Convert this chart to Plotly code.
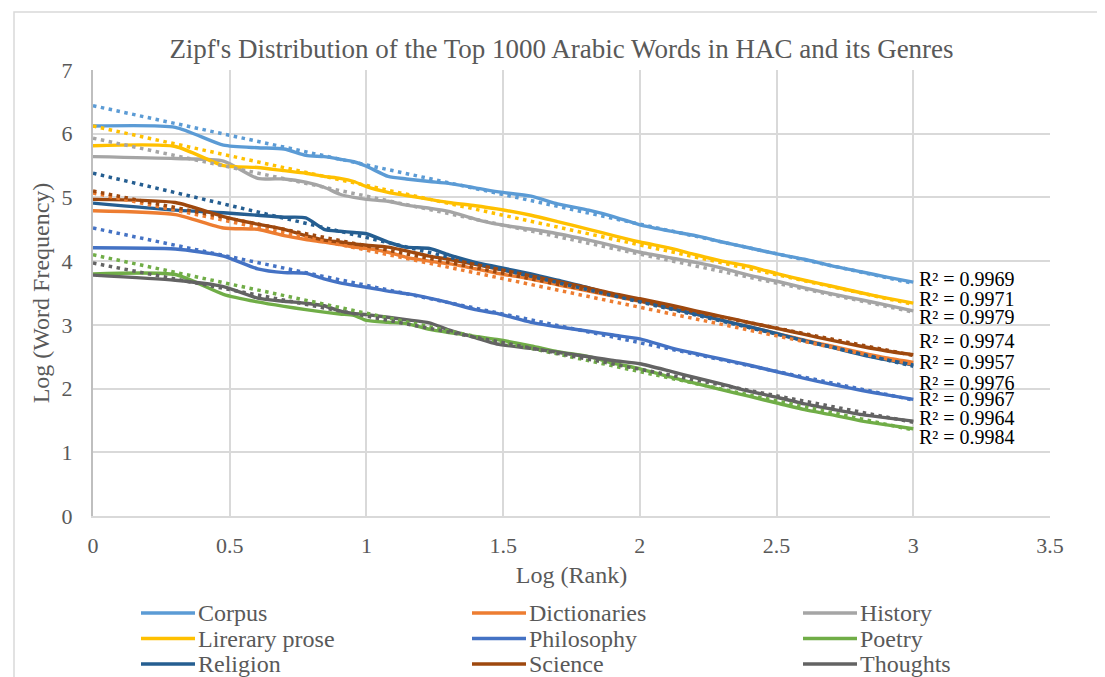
import numpy as np
import plotly.graph_objects as go

# ---------------- data ----------------
series_names = ["Corpus", "Dictionaries", "History",
                "Lirerary prose", "Philosophy", "Poetry",
                "Religion", "Science", "Thoughts"]
series_colors = ["#5B9BD5", "#ED7D31", "#A5A5A5",
                 "#FFC000", "#4472C4", "#70AD47",
                 "#255E91", "#9E480E", "#636363"]

ranks = [1, 2, 3, 4, 5, 6, 7, 8, 9, 10, 12, 14, 17, 20, 25, 30, 40, 50, 65, 80,
         100, 130, 160, 200, 250, 320, 400, 500, 650, 800, 1000]

corpus = [6.12, 6.10, 5.82, 5.78, 5.76, 5.66, 5.64, 5.60, 5.56, 5.49, 5.33, 5.29, 5.25, 5.22,
          5.15, 5.09, 5.02, 4.90, 4.80, 4.70, 4.57, 4.47, 4.40, 4.30, 4.21, 4.11, 4.03, 3.93,
          3.83, 3.75, 3.67]
dictionaries = [4.79, 4.73, 4.52, 4.50, 4.40, 4.34, 4.30, 4.26, 4.22, 4.20, 4.14, 4.06, 4.00,
                3.96, 3.88, 3.81, 3.72, 3.63, 3.53, 3.45, 3.37, 3.26, 3.17, 3.07, 2.97, 2.86,
                2.76, 2.67, 2.56, 2.48, 2.41]
history = [5.64, 5.61, 5.57, 5.30, 5.29, 5.24, 5.16, 5.05, 5.00, 4.97, 4.94, 4.88, 4.83, 4.78,
           4.66, 4.58, 4.50, 4.43, 4.33, 4.24, 4.14, 4.05, 3.98, 3.89, 3.78, 3.68, 3.58, 3.49,
           3.39, 3.31, 3.22]
literary_prose = [5.81, 5.80, 5.50, 5.47, 5.42, 5.38, 5.33, 5.30, 5.25, 5.17, 5.08, 5.03, 4.97,
                  4.92, 4.87, 4.82, 4.72, 4.62, 4.50, 4.40, 4.30, 4.20, 4.10, 4.00, 3.92, 3.80,
                  3.70, 3.61, 3.50, 3.42, 3.34]
philosophy = [4.21, 4.19, 4.08, 3.88, 3.82, 3.81, 3.72, 3.66, 3.62, 3.59, 3.53, 3.49, 3.42, 3.35,
              3.24, 3.18, 3.04, 2.97, 2.90, 2.84, 2.78, 2.64, 2.55, 2.46, 2.37, 2.26, 2.16, 2.07,
              1.97, 1.90, 1.83]
poetry = [3.80, 3.79, 3.48, 3.36, 3.29, 3.24, 3.20, 3.17, 3.15, 3.07, 3.04, 3.02, 2.93, 2.88,
          2.82, 2.77, 2.67, 2.58, 2.50, 2.40, 2.31, 2.18, 2.08, 1.98, 1.88, 1.77, 1.67, 1.59,
          1.49, 1.43, 1.37]
religion = [4.91, 4.80, 4.76, 4.72, 4.69, 4.68, 4.50, 4.47, 4.45, 4.43, 4.30, 4.22, 4.20, 4.10,
            3.98, 3.91, 3.80, 3.70, 3.58, 3.47, 3.38, 3.26, 3.17, 3.07, 2.97, 2.86, 2.75, 2.65,
            2.53, 2.45, 2.37]
science = [4.97, 4.92, 4.70, 4.58, 4.50, 4.40, 4.33, 4.30, 4.27, 4.25, 4.22, 4.16, 4.08, 4.03,
           3.95, 3.88, 3.77, 3.68, 3.58, 3.49, 3.41, 3.31, 3.22, 3.13, 3.04, 2.94, 2.85, 2.76,
           2.66, 2.59, 2.53]
thoughts = [3.78, 3.70, 3.60, 3.42, 3.37, 3.34, 3.30, 3.22, 3.18, 3.16, 3.12, 3.08, 3.03, 2.92,
            2.80, 2.70, 2.63, 2.57, 2.50, 2.44, 2.39, 2.27, 2.17, 2.07, 1.96, 1.86, 1.76, 1.68,
            1.59, 1.54, 1.49]

series_values = [corpus, dictionaries, history, literary_prose, philosophy, poetry,
                 religion, science, thoughts]

# linear trendlines (log frequency = intercept + slope * log rank)
trend_intercept = [6.44, 5.07, 5.93, 6.12, 4.52, 4.10, 5.38, 5.10, 3.97]
trend_slope = [-0.930, -0.897, -0.910, -0.933, -0.900, -0.917, -1.010, -0.860, -0.833]
r_squared = [0.9969, 0.9957, 0.9979, 0.9971, 0.9967, 0.9984, 0.9976, 0.9974, 0.9964]

# layout-only: where the R² labels sit (y in data units), in series order
r2_label_y = [3.72, 2.42, 3.12, 3.41, 1.84, 1.24, 2.09, 2.75, 1.54]

x_ticks = [0, 0.5, 1, 1.5, 2, 2.5, 3, 3.5]
y_ticks = [0, 1, 2, 3, 4, 5, 6, 7]

# ---------------- figure ----------------
OFF = 8                      # page body margin of the html page
W, H = 1105 - OFF, 677 - OFF
PLOT_L, PLOT_R, PLOT_T, PLOT_B = 93, 1050, 70, 516   # reference pixel positions
L = PLOT_L - OFF
T = PLOT_T - OFF
R = W - (PLOT_R - OFF)
B = H - (PLOT_B - OFF)
PW, PH = PLOT_R - PLOT_L, PLOT_B - PLOT_T
FONT = "Liberation Serif, Times New Roman, serif"
GREY_TEXT = "#595959"


def px_to_paper_x(px):
    return (px - PLOT_L) / PW


def px_to_paper_y(py):
    return (PLOT_B - py) / PH


log_rank = np.log10(np.array(ranks, dtype=float))
fig = go.Figure()

for name, color, vals in zip(series_names, series_colors, series_values):
    fig.add_trace(go.Scatter(x=log_rank, y=vals, mode="lines", name=name,
                             line=dict(color=color, width=3.4, shape="spline", smoothing=0.6),
                             showlegend=False))

x_trend = np.array([log_rank[0], log_rank[-1]])
for name, color, a, b in zip(series_names, series_colors, trend_intercept, trend_slope):
    fig.add_trace(go.Scatter(x=x_trend, y=a + b * x_trend, mode="lines",
                             name=name + " trend",
                             line=dict(color=color, width=3.5, dash="3.5px,4.5px"),
                             showlegend=False, hoverinfo="skip"))

# R² labels
for r2, ly in zip(r_squared, r2_label_y):
    fig.add_annotation(x=3.012, y=ly, xref="x", yref="y", text=f"R² = {r2:.4f}",
                       showarrow=False, xanchor="left", yanchor="middle",
                       font=dict(family=FONT, size=20, color="#000000"))

# legend (3 columns x 3 rows)
for i, (name, color) in enumerate(zip(series_names, series_colors)):
    col, row = i % 3, i // 3
    lx0 = 141 + 331 * col
    ly = 613 + 25.5 * row
    fig.add_shape(type="line", xref="paper", yref="paper",
                  x0=px_to_paper_x(lx0), x1=px_to_paper_x(lx0 + 54),
                  y0=px_to_paper_y(ly), y1=px_to_paper_y(ly),
                  line=dict(color=color, width=3.5))
    fig.add_annotation(xref="paper", yref="paper", x=px_to_paper_x(lx0 + 55),
                       y=px_to_paper_y(ly), text=name, showarrow=False,
                       xanchor="left", yanchor="middle",
                       font=dict(family=FONT, size=24, color=GREY_TEXT))

# outer chart border
fig.add_shape(type="rect", xref="paper", yref="paper", layer="below",
              x0=px_to_paper_x(14), x1=px_to_paper_x(1130),
              y0=px_to_paper_y(720), y1=px_to_paper_y(12),
              line=dict(color="#D9D9D9", width=1.5), fillcolor="rgba(0,0,0,0)")

fig.update_layout(
    width=W, height=H,
    margin=dict(l=L, r=R, t=T, b=B, autoexpand=False),
    paper_bgcolor="white", plot_bgcolor="white",
    font=dict(family=FONT, color=GREY_TEXT),
    title=dict(text="Zipf's Distribution of the Top 1000 Arabic Words in HAC and its Genres",
               x=(561.5 - OFF) / W, xref="container", xanchor="center",
               y=1 - (48.5 - OFF) / H, yref="container", yanchor="middle",
               font=dict(family=FONT, size=27, color=GREY_TEXT)),
    xaxis=dict(range=[0, 3.5], tickvals=x_ticks, ticktext=[f"{v:g}" for v in x_ticks],
               showgrid=True, gridcolor="#D9D9D9", gridwidth=1.5,
               showline=True, linecolor="#D9D9D9", linewidth=1.5,
               zeroline=False, ticks="outside", ticklen=9, tickcolor="rgba(0,0,0,0)",
               tickfont=dict(family=FONT, size=22, color=GREY_TEXT),
               title=dict(text="Log (Rank)", standoff=9,
                          font=dict(family=FONT, size=24, color=GREY_TEXT))),
    yaxis=dict(range=[0, 7], tickvals=y_ticks, ticktext=[str(v) for v in y_ticks],
               showgrid=True, gridcolor="#D9D9D9", gridwidth=1.5,
               showline=True, linecolor="#BFBFBF", linewidth=2,
               zeroline=False, ticks="outside", ticklen=14, tickcolor="rgba(0,0,0,0)",
               tickfont=dict(family=FONT, size=22, color=GREY_TEXT),
               title=dict(text="Log (Word Frequency)", standoff=5,
                          font=dict(family=FONT, size=24, color=GREY_TEXT))),
    showlegend=False,
)

fig.write_html("out.html")
